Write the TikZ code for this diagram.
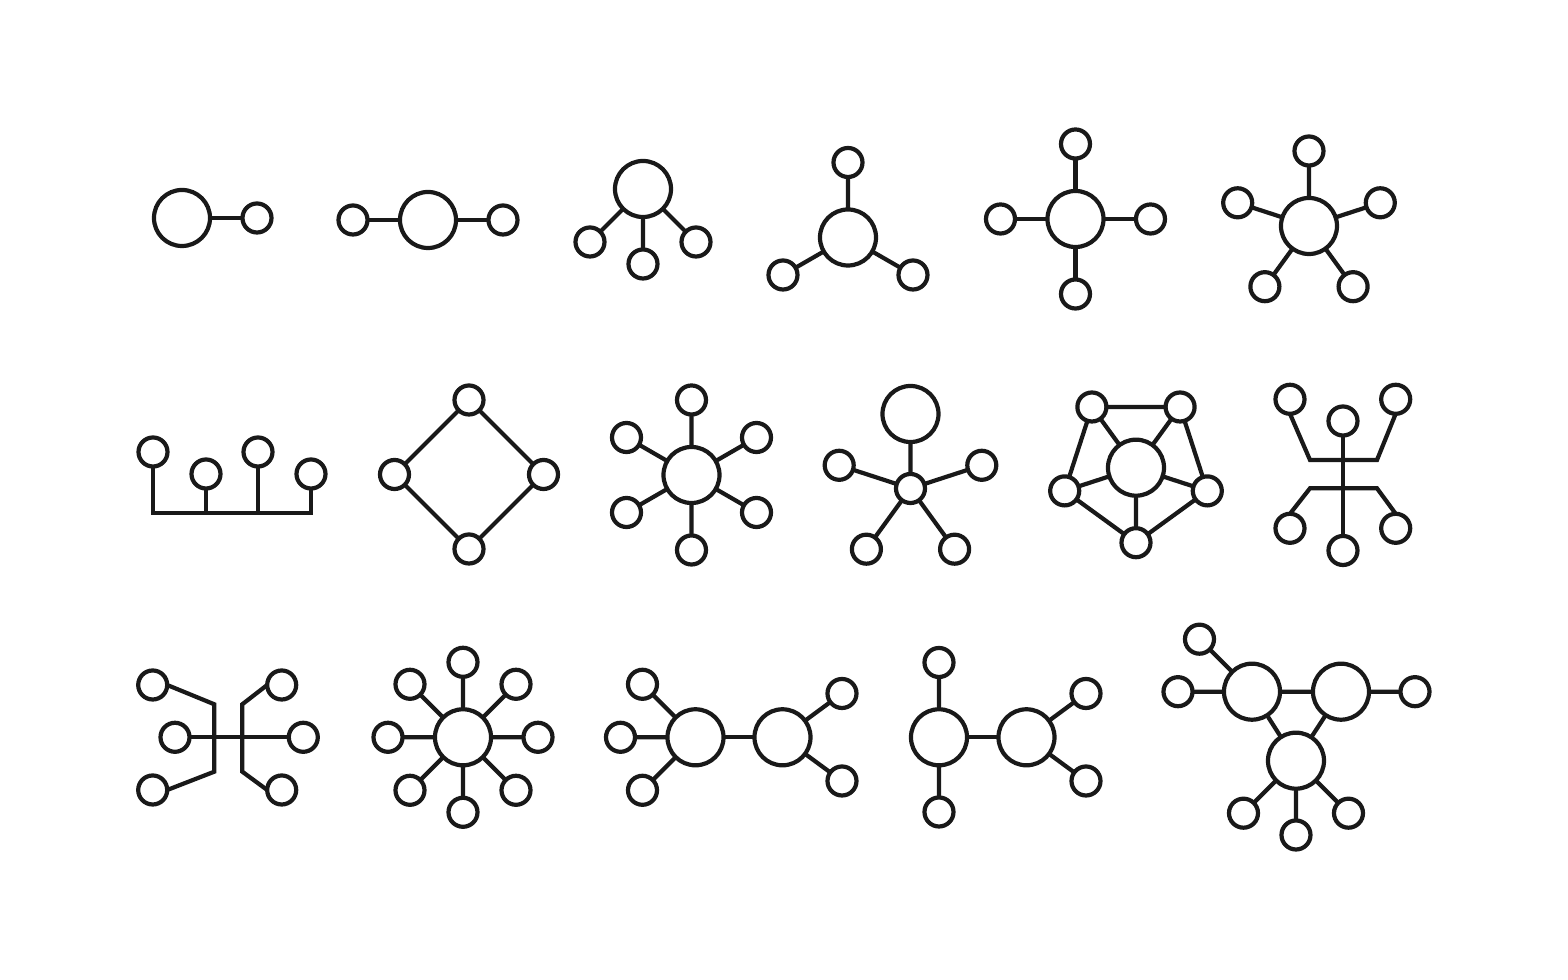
\documentclass[tikz,border=0pt]{standalone}
\tikzset{
  ring/.style = {circle, draw, minimum size=#1,
                 inner sep=0pt, outer sep=0pt},
  ring/.default = 0.29cm
}
\begin{document}
\begin{tikzpicture}[x=0.01cm, y=-0.01cm, line width=0.042cm, color=black!90]
	\def \hubsize{0.56cm}
	\useasboundingbox (0,0) rectangle (1568,980);

	% Row 1
	% pair
	\node[ring=\hubsize] (b1) at (182,218) {};
	\node[ring] (s1) at (257,218) {};
	\draw (b1) -- (s1);

	% three in a line
	\node[ring=\hubsize] (b2) at (428,220) {};
	\node[ring] (s2a) at (353,220) {};
	\node[ring] (s2b) at (503,220) {};
	\draw (s2a) -- (b2) -- (s2b);

	% three hanging
	\node[ring=\hubsize] (b3) at (643,189) {};
	\node[ring] (s3a) at (590,242) {};
	\node[ring] (s3b) at (643,264) {};
	\node[ring] (s3c) at (696,242) {};
	\draw (b3) -- (s3a) (b3) -- (s3b) (b3) -- (s3c);

	% tripod
	\node[ring=\hubsize] (b4) at (848,237.5) {};
	\node[ring] (s4a) at (848,162.5) {};
	\node[ring] (s4b) at (783,275) {};
	\node[ring] (s4c) at (913,275) {};
	\draw (b4) -- (s4a) (b4) -- (s4b) (b4) -- (s4c);

	% cross
	\node[ring=\hubsize] (b5) at (1075.5,219) {};
	\node[ring] (s5a) at (1075.5,144) {};
	\node[ring] (s5b) at (1150.5,219) {};
	\node[ring] (s5c) at (1075.5,294) {};
	\node[ring] (s5d) at (1000.5,219) {};
	\draw (b5) -- (s5a) (b5) -- (s5b) (b5) -- (s5c) (b5) -- (s5d);

	% five point star
	\node[ring=\hubsize] (b6) at (1309,226) {};
	\node[ring] (s6a) at (1309,151) {};
	\node[ring] (s6b) at (1380.3,202.8) {};
	\node[ring] (s6c) at (1353.1,286.7) {};
	\node[ring] (s6d) at (1264.9,286.7) {};
	\node[ring] (s6e) at (1237.7,202.8) {};
	\draw (b6) -- (s6a) (b6) -- (s6b) (b6) -- (s6c) (b6) -- (s6d) (b6) -- (s6e);

	% Row 2
	% comb
	\node[ring] (s7a) at (153,452) {};
	\node[ring] (s7b) at (206,474) {};
	\node[ring] (s7c) at (258,452) {};
	\node[ring] (s7d) at (311,474) {};
	\coordinate (k7a) at (153,513);
	\coordinate (k7b) at (206,513);
	\coordinate (k7c) at (258,513);
	\coordinate (k7d) at (311,513);
	\draw (s7a) -- (k7a) -- (k7d) -- (s7d);
	\draw (s7b) -- (k7b) (s7c) -- (k7c);

	% diamond
	\node[ring] (s8a) at (469,400) {};
	\node[ring] (s8b) at (543.5,474.5) {};
	\node[ring] (s8c) at (469,549) {};
	\node[ring] (s8d) at (394.5,474.5) {};
	\draw (s8a) -- (s8b) -- (s8c) -- (s8d) -- (s8a);

	% six spokes
	\node[ring=\hubsize] (b9) at (691.5,475) {};
	\node[ring] (s9a) at (691.5,400) {};
	\node[ring] (s9b) at (756.5,437.5) {};
	\node[ring] (s9c) at (756.5,512.5) {};
	\node[ring] (s9d) at (691.5,550) {};
	\node[ring] (s9e) at (626.5,512.5) {};
	\node[ring] (s9f) at (626.5,437.5) {};
	\draw (b9) -- (s9a) (b9) -- (s9b) (b9) -- (s9c) (b9) -- (s9d) (b9) -- (s9e) (b9) -- (s9f);

	% small hub, big head
	\node[ring] (h10) at (910.5,488.5) {};
	\node[ring=\hubsize] (b10) at (910.5,414) {};
	\node[ring] (s10a) at (981.8,465.3) {};
	\node[ring] (s10b) at (954.6,549.2) {};
	\node[ring] (s10c) at (866.4,549.2) {};
	\node[ring] (s10d) at (839.2,465.3) {};
	\draw (h10) -- (b10) (h10) -- (s10a) (h10) -- (s10b) (h10) -- (s10c) (h10) -- (s10d);

	% pentagon
	\node[ring=\hubsize] (b11) at (1136,467.7) {};
	\node[ring] (s11a) at (1091.9,407) {};
	\node[ring] (s11b) at (1180.1,407) {};
	\node[ring] (s11c) at (1207.3,490.9) {};
	\node[ring] (s11d) at (1136,542.7) {};
	\node[ring] (s11e) at (1064.7,490.9) {};
	\draw (b11) -- (s11a) (b11) -- (s11b) (b11) -- (s11c) (b11) -- (s11d) (b11) -- (s11e);
	\draw (s11a) -- (s11b) -- (s11c) -- (s11d) -- (s11e) -- (s11a);

	% tree
	\node[ring] (s12a) at (1290,399.3) {};
	\node[ring] (s12b) at (1343,421) {};
	\node[ring] (s12c) at (1395.7,399.3) {};
	\node[ring] (s12d) at (1290,528.3) {};
	\node[ring] (s12e) at (1343,550.5) {};
	\node[ring] (s12f) at (1395.7,528.3) {};
	\coordinate (u12a) at (1310,460);
	\coordinate (u12b) at (1377,460);
	\coordinate (v12a) at (1310,488.3);
	\coordinate (v12b) at (1377,488.3);
	\draw (s12b) -- (s12e);
	\draw (s12a.south) -- (u12a) -- (u12b) -- (s12c.south);
	\draw (s12d.north) -- (v12a) -- (v12b) -- (s12f.north);

	% Row 3
	% brackets
	\node[ring] (s13a) at (152.7,685) {};
	\node[ring] (s13b) at (175,737.3) {};
	\node[ring] (s13c) at (152.7,790) {};
	\node[ring] (s13d) at (281.7,685) {};
	\node[ring] (s13e) at (303.3,737.3) {};
	\node[ring] (s13f) at (281.7,790) {};
	\coordinate (p13a) at (214.3,704.3);
	\coordinate (p13b) at (214.3,771.7);
	\coordinate (q13a) at (242.3,704.3);
	\coordinate (q13b) at (242.3,771.7);
	\draw (s13b) -- (s13e);
	\draw (s13a.east) -- (p13a) -- (p13b) -- (s13c.east);
	\draw (s13d.west) -- (q13a) -- (q13b) -- (s13f.west);

	% eight spokes
	\node[ring=\hubsize] (b14) at (463,737.3) {};
	\node[ring] (s14a) at (463,662.3) {};
	\node[ring] (s14b) at (516,684.3) {};
	\node[ring] (s14c) at (538,737.3) {};
	\node[ring] (s14d) at (516,790.3) {};
	\node[ring] (s14e) at (463,812.3) {};
	\node[ring] (s14f) at (410,790.3) {};
	\node[ring] (s14g) at (388,737.3) {};
	\node[ring] (s14h) at (410,684.3) {};
	\draw (b14) -- (s14a) (b14) -- (s14b) (b14) -- (s14c) (b14) -- (s14d);
	\draw (b14) -- (s14e) (b14) -- (s14f) (b14) -- (s14g) (b14) -- (s14h);

	% two hubs, 3 + 2
	\node[ring=\hubsize] (b15a) at (695.5,737.3) {};
	\node[ring=\hubsize] (b15b) at (782.5,737.3) {};
	\node[ring] (s15a) at (642.5,684.3) {};
	\node[ring] (s15b) at (620.5,737.3) {};
	\node[ring] (s15c) at (642.5,790.3) {};
	\node[ring] (s15d) at (842,693.5) {};
	\node[ring] (s15e) at (842,781) {};
	\draw (b15a) -- (b15b);
	\draw (b15a) -- (s15a) (b15a) -- (s15b) (b15a) -- (s15c) (b15b) -- (s15d) (b15b) -- (s15e);

	% two hubs, 2 + 2
	\node[ring=\hubsize] (b16a) at (939,737.3) {};
	\node[ring=\hubsize] (b16b) at (1026.5,737.3) {};
	\node[ring] (s16a) at (939,662.5) {};
	\node[ring] (s16b) at (939,812) {};
	\node[ring] (s16c) at (1086,693.5) {};
	\node[ring] (s16d) at (1086,781) {};
	\draw (b16a) -- (b16b);
	\draw (b16a) -- (s16a) (b16a) -- (s16b) (b16b) -- (s16c) (b16b) -- (s16d);

	% three hubs
	\node[ring=\hubsize] (b17a) at (1252,691.7) {};
	\node[ring=\hubsize] (b17b) at (1341,691.7) {};
	\node[ring=\hubsize] (b17c) at (1296,760.7) {};
	\node[ring] (s17a) at (1199.5,639.2) {};
	\node[ring] (s17b) at (1178,691.7) {};
	\node[ring] (s17c) at (1415,691.7) {};
	\node[ring] (s17d) at (1243.5,813.2) {};
	\node[ring] (s17e) at (1296,835) {};
	\node[ring] (s17f) at (1348.5,813.2) {};
	\draw (b17a) -- (b17b) -- (b17c) -- (b17a);
	\draw (b17a) -- (s17a) (b17a) -- (s17b) (b17b) -- (s17c);
	\draw (b17c) -- (s17d) (b17c) -- (s17e) (b17c) -- (s17f);

\end{tikzpicture}
\end{document}
